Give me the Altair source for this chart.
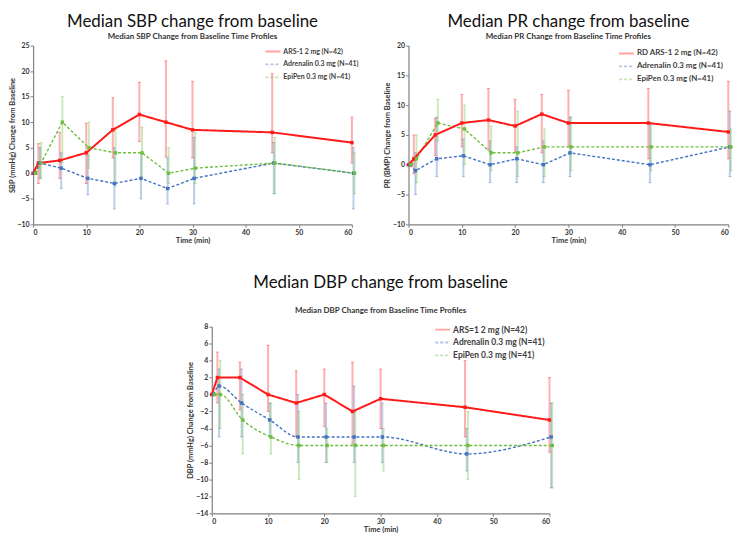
import altair as alt
import pandas as pd

times = [0, 1, 5, 10, 15, 20, 25, 30, 45, 60]
keys = ["ars", "adr", "epi"]

# ---- SBP ----
sbp_labels = ["ARS-1 2 mg (N=42)", "Adrenalin 0.3 mg (N=41)", "EpiPen 0.3 mg (N=41)"]
sbp_ars = [0, 2, 2.5, 4, 8.5, 11.5, 10, 8.5, 8, 6]
sbp_ars_lo = [0, -2, -1, -2, 3, 6.2, 3.2, 3, 4, 2]
sbp_ars_hi = [0, 5.8, 8, 9.8, 14.8, 17.8, 22, 18, 19.5, 11]
sbp_adr = [0, 2, 1, -1, -2, -1, -3, -1, 2, 0]
sbp_adr_lo = [0, -1, -3, -4.2, -7, -5, -6, -6, -4, -7]
sbp_adr_hi = [0, 5, 4, 3.5, 5, 4, 3, 7, 6, 5]
sbp_epi = [0, 2, 10, 5, 4, 4, 0, 1, 2, 0]
sbp_epi_lo = [0, -1, 2, 1, -2.5, -1, -2, -2, -4, -4]
sbp_epi_hi = [0, 6, 15, 10, 9, 9, 5, 8, 7, 4]

# ---- PR ----
pr_labels = ["RD ARS-1 2 mg (N=42)", "Adrenalin 0.3 mg (N=41)", "EpiPen 0.3 mg (N=41)"]
pr_ars = [0, 1, 5, 7, 7.5, 6.5, 8.5, 7, 7, 5.5]
pr_ars_lo = [0, -1.5, 1.5, 3, 2.5, 2, 2, 3, 1, 1]
pr_ars_hi = [0, 5, 7.8, 11.8, 12.8, 11, 11.8, 12.5, 12.8, 14]
pr_adr = [0, -1, 1, 1.5, 0, 1, 0, 2, 0, 3]
pr_adr_lo = [0, -5, -2, -2, -3, -3, -3, -2, -3, -2]
pr_adr_hi = [0, 2, 8, 4.3, 4, 3, 4, 8, 7, 9]
pr_epi = [0, 1, 7, 6, 2, 2, 3, 3, 3, 3]
pr_epi_lo = [0, -3, 4, 0, -1, -2, -2, -1, -1, -1]
pr_epi_hi = [0, 5, 11, 10, 6.5, 9, 6, 8, 7, 6]

# ---- DBP ----
dbp_labels = ["ARS=1 2 mg (N=42)", "Adrenalin 0.3 mg (N=41)", "EpiPen 0.3 mg (N=41)"]
dbp_ars = [0, 2, 2, 0, -1, 0, -2, -0.5, -1.5, -3]
dbp_ars_lo = [0, -1, -1.8, -2, -5, -3.8, -5.8, -4, -5, -6.8]
dbp_ars_hi = [0, 5, 3.8, 5.8, 2.8, 3, 3.8, 3, 4, 2]
dbp_adr = [0, 1, -1, -3, -5, -5, -5, -5, -7, -5]
dbp_adr_lo = [0, -5, -5, -5, -8, -8, -8, -8, -9, -11]
dbp_adr_hi = [0, 3, 3, -1, 0, -1, 1, -1, -4, -1]
dbp_epi = [0, 0, -3, -5, -6, -6, -6, -6, -6, -6]
dbp_epi_lo = [0, -4, -7, -7, -10, -8, -12, -9, -10, -11]
dbp_epi_hi = [0, 4, 0, -1, -2, -4, -2, -4, -2, -1]

RED, BLUE, GREEN = "#ff1a1a", "#4472c4", "#6fbf3f"
FONT = "Lato"


def build(labels, vals, los, his):
    rows = []
    for k, lab, v, lo, hi in zip(keys, labels, vals, los, his):
        for t, a, b, c in zip(times, v, lo, hi):
            rows.append({"key": k, "series": lab, "t": t, "v": a, "lo": b, "hi": c})
    return pd.DataFrame(rows)


def panel(df, labels, ydom, ystep, ytitle, title, subtitle, w, h, smooth,
          title_size, sub_pad, title_off, leg_x, leg_y, leg_font, leg_row):
    yticks = list(range(ydom[0], ydom[1] + 1, ystep))
    xs = alt.Scale(domain=[0, 60], nice=False, zero=False)
    ys = alt.Scale(domain=ydom, nice=False, zero=False)
    xax = alt.Axis(values=list(range(0, 61, 10)), title="Time (min)", grid=False)
    yax = alt.Axis(values=yticks, title=ytitle, grid=False)
    cscale = alt.Scale(domain=labels, range=[RED, BLUE, GREEN])
    dscale = alt.Scale(domain=labels, range=[[1, 0], [3, 2], [3, 2]])
    legend = alt.Legend(
        title=None, orient="none", legendX=leg_x, legendY=leg_y, padding=0,
        symbolType="stroke", symbolSize=225, symbolStrokeWidth=1.8,
        labelFont=FONT, labelFontSize=leg_font, labelFontWeight="bold",
        labelColor="#404040", rowPadding=leg_row, labelOffset=2, labelLimit=200,
    )
    color = alt.Color("series:N", scale=cscale, legend=legend)
    dash = alt.StrokeDash("series:N", scale=dscale, legend=legend)
    base = alt.Chart(df).transform_calculate(
        tx="datum.t + (datum.key == 'adr' ? 0.3 : (datum.key == 'epi' ? 0.5 : 0))"
    )
    X = alt.X("tx:Q", scale=xs, axis=xax)
    err = base.transform_filter("datum.t > 0").mark_errorbar(
        ticks={"size": 3, "opacity": 0.4, "strokeWidth": 1},
        rule={"opacity": 0.35, "strokeWidth": 2},
    ).encode(
        x=X,
        y=alt.Y("lo:Q", scale=ys, axis=yax),
        y2="hi:Q",
        color=color,
    )
    enc = dict(x=X, y=alt.Y("v:Q", scale=ys, axis=yax), color=color, strokeDash=dash)
    line_red = base.transform_filter("datum.key == 'ars'").mark_line(strokeWidth=2).encode(**enc)
    line_dash = base.transform_filter("datum.key != 'ars'").mark_line(
        strokeWidth=1.4, interpolate="monotone" if smooth else "linear"
    ).encode(**enc)
    pts = base.mark_point(filled=True, size=12, opacity=1, shape="square").encode(
        x=X, y=alt.Y("v:Q", scale=ys, axis=yax), color=color,
    )
    return alt.layer(err, line_dash, line_red, pts).properties(
        width=w, height=h,
        title=alt.TitleParams(
            text=title, subtitle=subtitle, font=FONT, fontSize=title_size,
            fontWeight="normal", color="#111", subtitleFont=FONT,
            subtitleFontSize=8, subtitleFontWeight="bold", subtitleColor="#333",
            subtitlePadding=sub_pad, offset=title_off, anchor="middle",
        ),
    )


sbp = panel(build(sbp_labels, [sbp_ars, sbp_adr, sbp_epi], [sbp_ars_lo, sbp_adr_lo, sbp_epi_lo],
                  [sbp_ars_hi, sbp_adr_hi, sbp_epi_hi]),
            sbp_labels, [-10, 25], 5, "SBP (mmHg) Change from Baseline",
            "Median SBP change from baseline", "Median SBP Change from Baseline Time Profiles",
            321, 180, False, 17, 2, 0, 233, -2.5, 7, -4)
pr = panel(build(pr_labels, [pr_ars, pr_adr, pr_epi], [pr_ars_lo, pr_adr_lo, pr_epi_lo],
                 [pr_ars_hi, pr_adr_hi, pr_epi_hi]),
           pr_labels, [-10, 20], 5, "PR (BMP) Change from Baseline",
           "Median PR change from baseline", "Median PR Change from Baseline Time Profiles",
           322, 180, False, 17, 2, 0, 211, -0.5, 8, -3)
dbp = panel(build(dbp_labels, [dbp_ars, dbp_adr, dbp_epi], [dbp_ars_lo, dbp_adr_lo, dbp_epi_lo],
                  [dbp_ars_hi, dbp_adr_hi, dbp_epi_hi]),
            dbp_labels, [-14, 8], 2, "DBP (mmHg) Change from Baseline",
            "Median DBP change from baseline", "Median DBP Change from Baseline Time Profiles",
            340, 188, True, 17, 15, 5, 224, -5.5, 8.5, -2.5)

top = alt.hconcat(sbp, pr, spacing=24).resolve_scale(color="independent", strokeDash="independent")
chart = alt.vconcat(top, dbp, spacing=30, center=True).resolve_scale(
    color="independent", strokeDash="independent"
).properties(
    padding={"top": 3, "left": 0, "right": 0, "bottom": 0}, background="white"
).configure_view(stroke=None).configure_axis(
    labelFont=FONT, labelFontSize=7, labelFontWeight="bold", labelColor="#333",
    titleFont=FONT, titleFontSize=7.5, titleFontWeight="bold", titleColor="#333",
    domainColor="#808080", domainWidth=1.2, tickColor="#808080", tickSize=3,
    labelPadding=1, titlePadding=1,
)

chart.save("out.html", embed_options={"renderer": "svg", "actions": False})
